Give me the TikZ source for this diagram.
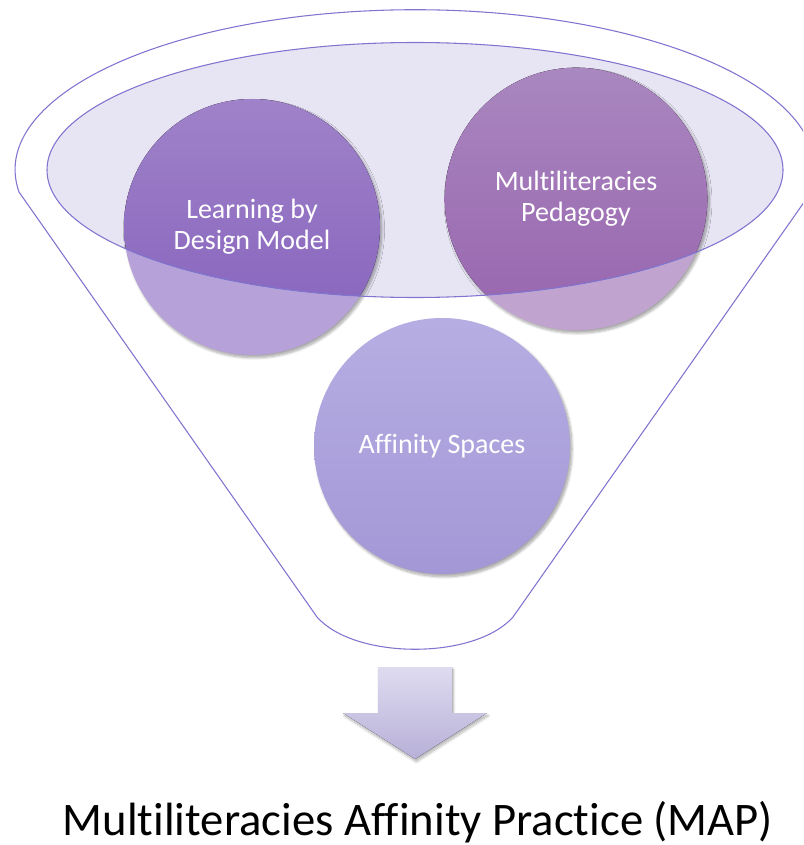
\documentclass[tikz,border=0pt]{standalone}
\usepackage{fontspec}
\setmainfont{Carlito}[Ligatures=NoCommon]
\usetikzlibrary{shadows.blur}
\definecolor{funline}{HTML}{7F74D0}
\definecolor{ellfill}{HTML}{E7E5F3}
\definecolor{lbdlight}{HTML}{B6A2D8}
\definecolor{lbdtop}{HTML}{9F82C9}
\definecolor{lbdbot}{HTML}{8561BC}
\definecolor{mplight}{HTML}{C0A4CF}
\definecolor{mptop}{HTML}{A987BF}
\definecolor{mpbot}{HTML}{9864AE}
\definecolor{astop}{HTML}{B6AEE3}
\definecolor{asbot}{HTML}{A497D6}
\definecolor{arrtop}{HTML}{DEDBF0}
\definecolor{arrbot}{HTML}{B8B0D8}

\begin{document}
\begin{tikzpicture}[x=0.75pt,y=-0.75pt,
	bubble/.style={circle,minimum size=192pt,inner sep=0pt,
		blur shadow={shadow xshift=1.5pt,shadow yshift=-2pt,shadow blur steps=8,shadow opacity=35}},
	bubtext/.style={text=white,align=center,font=\fontsize{21}{23}\selectfont},
	funnel/.style={draw=funline,line width=0.8pt}]
		\useasboundingbox (0,0) rectangle (803,845);
		\clip (0,0) rectangle (803,845);
		% funnel body
		\draw[funnel] (19,192) arc[start angle=172,end angle=368,x radius=400,y radius=160]
			-- (513,617) .. controls (475,660) and (355,660) .. (317,617) -- cycle;
		\fill[ellfill] (415,170) ellipse[x radius=368,y radius=127.5];
		% circles
		\node[bubble,fill=lbdlight] (lbd) at (252,227) {};
		\node[bubble,fill=mplight,minimum size=197pt] (mp) at (576,199) {};
		\node[bubble,top color=astop,bottom color=asbot] (as) at (442,446) {};
		\begin{scope}
			\clip (415,170) ellipse[x radius=368,y radius=127.5];
			\fill[top color=lbdtop,bottom color=lbdbot] (lbd) circle[radius=128];
			\fill[top color=mptop,bottom color=mpbot] (mp) circle[radius=131.3];
		\end{scope}
		\draw[funnel] (415,170) ellipse[x radius=368,y radius=127.5];
		\node[bubtext] (lbdtext) at (lbd) {Learning by\\Design Model};
		\node[bubtext] (mptext) at (mp) {Multiliteracies\\Pedagogy};
		\node[bubtext] (astext) at (as) {Affinity Spaces};
		% arrow and result
		\fill[top color=arrtop,bottom color=arrbot,
			blur shadow={shadow xshift=1pt,shadow yshift=-2pt,shadow blur steps=8,shadow opacity=30}]
			(378,667) -- (452,667) -- (452,713) -- (487,713) -- (415,759) -- (343,713) -- (378,713) -- cycle;
		\node[anchor=base,font=\fontsize{35}{38}\selectfont] (map) at (418,835) {Multiliteracies Affinity Practice (MAP)};
\end{tikzpicture}
\end{document}
